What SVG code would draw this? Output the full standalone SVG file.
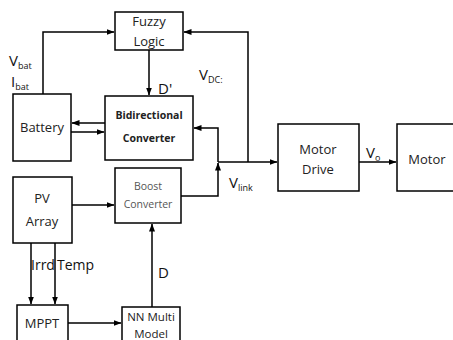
<svg xmlns="http://www.w3.org/2000/svg" width="453" height="340" viewBox="0 0 453 340">
<defs>
<marker id="ah" markerWidth="8" markerHeight="6" refX="7.5" refY="3" orient="auto" markerUnits="userSpaceOnUse">
<path d="M0,0 L8,3 L0,6 Z" fill="#000"/>
</marker>
</defs>
<style>
.box{fill:#fff;stroke:#000;stroke-width:1.5}
.ln{fill:none;stroke:#000;stroke-width:1.5}
.t{font-family:"Open Sans","Liberation Sans",sans-serif;font-size:13px;fill:#222;text-anchor:middle}
.b{font-weight:bold;font-size:10.5px}
.g{fill:#555;font-size:10.5px}
.l{font-family:"Open Sans","Liberation Sans",sans-serif;font-size:15px;fill:#111}
.m{font-size:14px}
.s{font-size:9px}
</style>
<rect width="453" height="340" fill="#fff"/>
<g id="connectors">
<polyline class="ln" points="43,94 43,32 114,32" marker-end="url(#ah)"/>
<polyline class="ln" points="248,162 248,32 184,32" marker-end="url(#ah)"/>
<line class="ln" x1="149" y1="50" x2="149" y2="95" marker-end="url(#ah)"/>
<line class="ln" x1="105" y1="123" x2="72" y2="123" marker-end="url(#ah)"/>
<line class="ln" x1="71" y1="132" x2="104" y2="132" marker-end="url(#ah)"/>
<polyline class="ln" points="218,162 218,128 194,128" marker-end="url(#ah)"/>
<polyline class="ln" points="181,196 218,196 218,163" marker-end="url(#ah)"/>
<line class="ln" x1="218" y1="162" x2="277" y2="162" marker-end="url(#ah)"/>
<line class="ln" x1="359" y1="162" x2="396" y2="162" marker-end="url(#ah)"/>
<line class="ln" x1="72" y1="205" x2="114" y2="205" marker-end="url(#ah)"/>
<line class="ln" x1="31" y1="243" x2="31" y2="304" marker-end="url(#ah)"/>
<line class="ln" x1="55" y1="243" x2="55" y2="304" marker-end="url(#ah)"/>
<line class="ln" x1="68" y1="323" x2="121" y2="323" marker-end="url(#ah)"/>
<line class="ln" x1="152" y1="307" x2="152" y2="224" marker-end="url(#ah)"/>
</g>
<g id="fuzzy">
<rect class="box" x="115" y="12" width="68" height="38"/>
<text class="t" x="149" y="26" fill="#333">Fuzzy</text>
<text class="t" x="149" y="46">Logic</text>
</g>
<g id="battery">
<rect class="box" x="13" y="94" width="58" height="67"/>
<text class="t" x="42" y="132">Battery</text>
</g>
<g id="bidirectional">
<rect class="box" x="105" y="96" width="88" height="64"/>
<text class="t b" x="149" y="119">Bidirectional</text>
<text class="t b" x="149" y="142">Converter</text>
</g>
<g id="boost">
<rect class="box" x="115" y="168" width="66" height="55"/>
<text class="t g" x="148" y="190">Boost</text>
<text class="t g" x="148" y="208">Converter</text>
</g>
<g id="pv">
<rect class="box" x="13" y="177" width="59" height="66"/>
<text class="t" x="42" y="203">PV</text>
<text class="t" x="42" y="226">Array</text>
</g>
<g id="mppt">
<rect class="box" x="17" y="305" width="51" height="40"/>
<text class="t" x="42" y="328">MPPT</text>
</g>
<g id="nn">
<rect class="box" x="122" y="307" width="58" height="40"/>
<text class="t" x="151" y="321" style="font-size:11.5px">NN Multi</text>
<text class="t" x="151" y="338" style="font-size:11.5px">Model</text>
</g>
<g id="motordrive">
<rect class="box" x="278" y="124" width="81" height="67"/>
<text class="t" x="318" y="154">Motor</text>
<text class="t" x="318" y="174">Drive</text>
</g>
<g id="motor">
<rect class="box" x="397" y="124" width="60" height="67"/>
<text class="t" x="427" y="164">Motor</text>
</g>
<g id="labels">
<text class="l" x="9" y="66">V<tspan class="s" dy="3">bat</tspan></text>
<text class="l" x="11" y="87">I<tspan class="s" dy="3">bat</tspan></text>
<text class="l" x="158" y="94">D'</text>
<text class="l" x="199" y="80">V<tspan class="s" dy="3">DC:</tspan></text>
<text class="l" x="229" y="188">V<tspan class="s" dy="3">link</tspan></text>
<text class="l" x="366" y="158">V<tspan class="s" dy="3">o</tspan></text>
<text class="l m" x="31" y="270">Irrd</text>
<text class="l m" x="57" y="270">Temp</text>
<text class="l" x="158" y="278">D</text>
</g>
</svg>
